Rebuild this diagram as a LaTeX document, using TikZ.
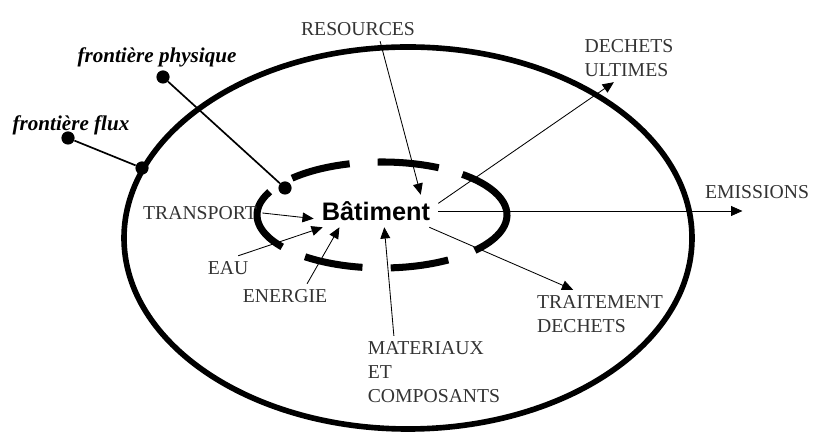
\documentclass[tikz,border=0pt]{standalone}
\usepackage{fontspec}
\setmainfont{Liberation Serif}
\newfontfamily\batfont{Liberation Sans}
\usetikzlibrary{arrows.meta,positioning}

\begin{document}
\begin{tikzpicture}[x=0.025cm, y=0.025cm,
    lbl/.style={font=\fontsize{14}{17}\selectfont, text=black!80, align=left, inner sep=2pt, outer sep=2pt},
    flab/.style={font=\fontsize{15}{18}\selectfont\bfseries\itshape, inner sep=1pt},
    blob/.style={circle, fill, inner sep=0pt, minimum size=0.33cm},
    flow/.style={-{Triangle[length=8pt,width=7pt]}, line width=0.6pt},
    link/.style={line width=1.2pt},
    wall/.style={line width=5pt}]
    \useasboundingbox (0,0) rectangle (814,432);
    % outer boundary:
    \draw [line width=4pt] (408,194) ellipse [x radius=284, y radius=191];
    % building boundary, broken:
    \foreach \a/\b in {154/217, 105/136, 63/92, -42/50, -86/-58, 232/261}
        \draw [wall] (382,217) ++(\a:125 and 53) arc [start angle=\a, end angle=\b, x radius=125, y radius=53];
    % building:
    \node [font=\batfont\bfseries\fontsize{18}{22}\selectfont, minimum width=3.1cm, minimum height=0.8cm, inner sep=0pt] (bat) at (376,221) {Bâtiment};
    % boundary labels:
    \node [blob] (fx1) at (68,294) {};
    \node [blob] (fx2) at (142,264) {};
    \node [blob] (fp1) at (163,355) {};
    \node [blob] (fp2) at (285,244) {};
    \node [flab] (fxl) at (71,307) {frontière flux};
    \node [flab] (fpl) at (157,375) {frontière physique};
    \draw [link] (fx1) -- (fx2);
    \draw [link] (fp1) -- (fp2);
    % inputs:
    \node [lbl] (res) at (358,403) {RESOURCES};
    \node [lbl] (trans) at (200,219) {TRANSPORT};
    \node [lbl] (eau) at (228,164) {EAU};
    \node [lbl] (ener) at (285,136) {ENERGIE};
    \node [lbl] (mat) at (434,60) {MATERIAUX\\ET\\COMPOSANTS};
    \draw [flow] (res.-29) -- (bat.20);
    \draw [flow] (trans.east) -- (bat.187);
    \draw [flow] (eau.50) -- (bat.197);
    \draw [flow] (ener.29) -- (bat.204);
    \draw [flow] (mat.138) -- (bat.-63);
    % outputs:
    \node [lbl] (ult) at (629,374) {DECHETS\\ULTIMES};
    \node [lbl] (emis) at (757,240) {EMISSIONS};
    \node [lbl] (trait) at (600,118) {TRAITEMENT\\DECHETS};
    \draw [flow] (bat.7) -- (ult.238);
    \draw [flow] (bat) -- (bat -| emis.-140);
    \draw [flow] (bat.-17) -- (trait.138);
\end{tikzpicture}
\end{document}
